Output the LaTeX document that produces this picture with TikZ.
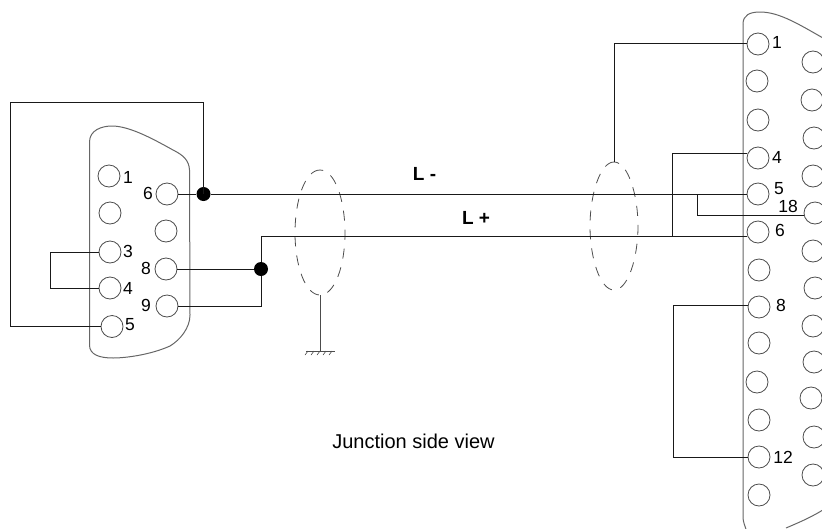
\documentclass[tikz,border=0pt]{standalone}
\usepackage{fontspec}
\setmainfont{Liberation Sans}
\begin{document}
\begin{tikzpicture}[x=1pt,y=-1pt,
  pin/.style={circle,draw=black!70,line width=0.8pt,minimum size=22pt,inner sep=0pt,fill=white},
  wire/.style={draw=black!90,line width=0.9pt},
  body/.style={draw=black!60,line width=1pt},
  shield/.style={draw=black!70,line width=0.8pt,dash pattern=on 10pt off 9pt},
  junction/.style={circle,fill=black,inner sep=0pt,minimum size=14pt},
  lab/.style={font=\fontsize{17.5}{19}\selectfont,inner sep=0pt},
  blab/.style={font=\fontsize{19}{21}\selectfont\bfseries,inner sep=0pt},
  captiontext/.style={font=\fontsize{20}{22}\selectfont,inner sep=0pt}]
\useasboundingbox (0,0) rectangle (822,528);
\clip (0,0) rectangle (822,528);
% connector bodies
\draw[body] (89.5,142) .. controls (89.5,130) and (102,126) .. (112,126)
  .. controls (130,126) and (155,140) .. (173,150)
  .. controls (183,155) and (189,160) .. (189.5,170)
  -- (190,315) .. controls (190,328) and (180,340) .. (170,346)
  .. controls (150,355) and (125,358) .. (113,358)
  .. controls (100,358) and (89.5,355) .. (89.5,345) -- cycle;
\draw[body] (743,24) .. controls (743,15) and (750,12) .. (760,12)
  .. controls (780,12) and (800,25) .. (830,42);
\draw[body] (743,24) -- (743,517) .. controls (743,522) and (745,526) .. (747,532);
\draw[body] (786,528) .. controls (800,522) and (812,517) .. (826,508);
% shields
\draw[shield] (320,170) .. controls (305,170) and (295,200) .. (295,233)
  .. controls (295,265) and (305,295) .. (320,295)
  .. controls (335,295) and (345,265) .. (345,233)
  .. controls (345,200) and (335,170) .. (320,170);
\draw[shield] (614,162) .. controls (600,162) and (590,195) .. (590,226)
  .. controls (590,258) and (600,290) .. (614,290)
  .. controls (628,290) and (638,258) .. (638,226)
  .. controls (638,195) and (628,162) .. (614,162);
% left pins
\node[pin] (a1) at (109,176) {};
\node[pin] (a2) at (110,213) {};
\node[pin] (a3) at (110,252) {};
\node[pin] (a4) at (110,288) {};
\node[pin] (a5) at (112,326.5) {};
\node[pin] (a6) at (167,194) {};
\node[pin] (a7) at (166,231) {};
\node[pin] (a8) at (166,269) {};
\node[pin] (a9) at (167,306) {};
% right pins, left column
\node[pin] (b1) at (758,44) {};
\node[pin] (b2) at (757,81) {};
\node[pin] (b3) at (758,120) {};
\node[pin] (b4) at (758,158) {};
\node[pin] (b5) at (758,194) {};
\node[pin] (b6) at (758,232) {};
\node[pin] (b7) at (759,270) {};
\node[pin] (b8) at (759,307) {};
\node[pin] (b9) at (759,343) {};
\node[pin] (b10) at (757,382) {};
\node[pin] (b11) at (759,420) {};
\node[pin] (b12) at (759,457) {};
\node[pin] (b13) at (759,495) {};
% right pins, right column
\node[pin] (c14) at (813,62) {};
\node[pin] (c15) at (812,100) {};
\node[pin] (c16) at (814,138) {};
\node[pin] (c17) at (813,176) {};
\node[pin] (c18) at (815,213) {};
\node[pin] (c19) at (813,251) {};
\node[pin] (c20) at (815,288) {};
\node[pin] (c21) at (813,326) {};
\node[pin] (c22) at (814,362) {};
\node[pin] (c23) at (811,398) {};
\node[pin] (c24) at (814,437) {};
\node[pin] (c25) at (813,475) {};
% junctions
\node[junction] (j6) at (203.5,194) {};
\node[junction] (j8) at (261,269) {};
% bends
\coordinate (loopTL) at (10.5,102.5);
\coordinate (loopTR) at (203.5,102.5);
\coordinate (gnd) at (320,351);
\coordinate (shA) at (320,295);
\coordinate (shB) at (614,162);
\coordinate (bus4) at (672,153);
\coordinate (bus6) at (672,236);
\coordinate (bus18) at (697,194);
\coordinate (low18) at (697,215);
\coordinate (top1) at (614,43);
\coordinate (bus8) at (673,305);
\coordinate (bus12) at (673,457);
% wires
\draw[wire] (a5.west) -| (loopTL) -- (loopTR) -- (j6.center);
\draw[wire] (a3.west) -- (50,252) -- (50,288) -- (a4.west);
\draw[wire] (a6.east) -- (j6) -- (b5.west);
\draw[wire] (a8.east) -- (j8);
\draw[wire] (a9.east) -| (j8) -- (261,236) -- (b6.west |- bus6);
\draw[wire] (bus4) -- (b4.west |- bus4);
\draw[wire] (bus4) -- (bus6);
\draw[wire] (bus18) -- (low18) -- (c18.west |- low18);
\draw[wire] (shB) -- (top1) -- (b1.west |- top1);
\draw[wire] (b8.west |- bus8) -- (bus8) -- (bus12) -- (b12.west);
% ground
\draw[draw=black!70,line width=1pt] (shA) -- (gnd);
\draw[draw=black!70,line width=0.7pt] (306,351) -- (335,351);
\foreach \xx in {306,312,318,324,330} \draw[draw=black!70,line width=0.6pt] (\xx+2,351) -- (\xx-1,355);
% labels
\node[lab] at (128,177) {1};
\node[lab] at (128,251) {3};
\node[lab] at (128,288) {4};
\node[lab] at (130,325) {5};
\node[lab] at (148,193) {6};
\node[lab] at (146,268) {8};
\node[lab] at (146,305) {9};
\node[lab] at (777,42) {1};
\node[lab] at (777,157) {4};
\node[lab] at (779,189) {5};
\node[lab] at (788,206) {18};
\node[lab] at (780,230) {6};
\node[lab] at (781,305) {8};
\node[lab] at (783,457) {12};
\node[blab] at (424.5,174) {L -};
\node[blab] at (476,218) {L +};
\node[captiontext] at (413.5,441) {Junction side view};
\end{tikzpicture}
\end{document}
